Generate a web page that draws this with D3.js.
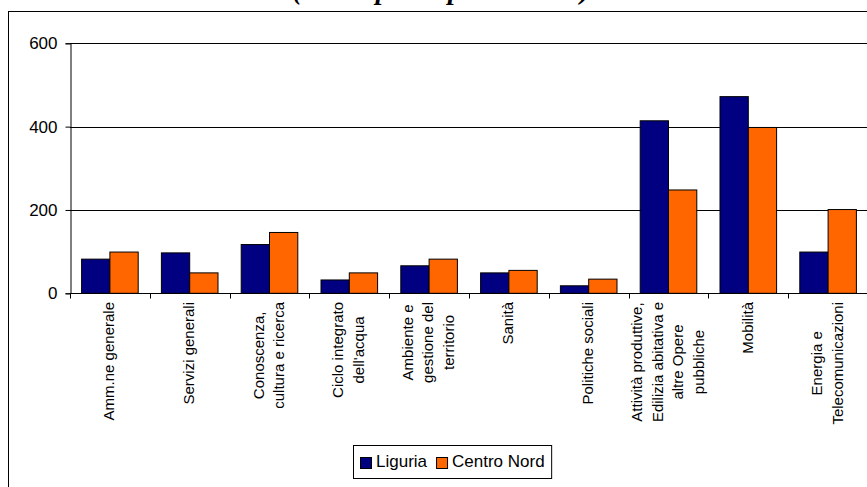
<!DOCTYPE html>
<html><head><meta charset="utf-8">
<script src="https://cdn.jsdelivr.net/npm/d3@7"></script>
<style>
html,body{margin:0;padding:0;background:#fff;overflow:hidden}
text{font-family:"Liberation Sans",Arial,sans-serif;fill:#000}
</style></head>
<body>
<svg id="chart" width="867" height="487"></svg>
<script>
const title = "(valori pro capite in euro)";
const categories = [
  "Amm.ne generale",
  "Servizi generali",
  "Conoscenza,\ncultura e ricerca",
  "Ciclo integrato\ndell'acqua",
  "Ambiente e\ngestione del\nterritorio",
  "Sanità",
  "Politiche sociali",
  "Attività produttive,\nEdilizia abitativa e\naltre Opere\npubbliche",
  "Mobilità",
  "Energia e\nTelecomunicazioni"
];
const seriesNames = ["Liguria", "Centro Nord"];
const seriesColors = ["#000080", "#FF6600"];
const liguria    = [82, 97, 117, 32, 66, 49, 18, 414, 472, 99];
const centroNord = [99, 49, 146, 49, 82, 55, 34, 248, 398, 201];
const yTicks = [0, 200, 400, 600];

const svg = d3.select("#chart");

// outer frame
svg.append("rect").attr("x", 8.5).attr("y", 11.5).attr("width", 920).attr("height", 520)
  .attr("fill", "#fff").attr("stroke", "#000").attr("stroke-width", 1);

// title (mostly cut off at the top, as in the reference)
svg.append("text").attr("x", 441).attr("y", -1).attr("text-anchor", "middle")
  .style("font-family", "'Liberation Serif','Times New Roman',serif")
  .style("font-weight", "bold").style("font-style", "italic").style("font-size", "28px")
  .text(title);

const x0 = d3.scaleBand().domain(categories).range([70, 868]).padding(0);
const x1 = d3.scaleBand().domain(seriesNames).range([0, x0.bandwidth()]).paddingInner(0).paddingOuter(0.41);
const y = d3.scaleLinear().domain([0, 600]).range([293.3, 43.3]);

// gridlines
svg.append("g").selectAll("line").data(yTicks.filter(d => d > 0)).join("line")
  .attr("x1", 70).attr("x2", 868)
  .attr("y1", d => Math.round(y(d)) + 0.5).attr("y2", d => Math.round(y(d)) + 0.5)
  .attr("stroke", "#000").attr("stroke-width", 1);

// bars
const data = categories.map((c, i) => ({c, vals: [liguria[i], centroNord[i]]}));
const groups = svg.append("g").selectAll("g").data(data).join("g")
  .attr("transform", d => `translate(${x0(d.c)},0)`);
groups.selectAll("rect").data(d => d.vals.map((v, j) => ({v, s: seriesNames[j], col: seriesColors[j]})))
  .join("rect")
  .attr("x", d => x1(d.s)).attr("width", x1.bandwidth())
  .attr("y", d => y(d.v)).attr("height", d => y(0) - y(d.v))
  .attr("fill", d => d.col).attr("stroke", "#000").attr("stroke-width", 1);

// y axis
const yAxis = svg.append("g").attr("transform", "translate(70.5,0)")
  .call(d3.axisLeft(y).tickValues(yTicks).tickSize(5).tickPadding(8));
yAxis.select(".domain").attr("stroke", "#000");
yAxis.selectAll(".tick line").attr("stroke", "#000");
yAxis.selectAll(".tick text").style("font-size", "17px").style("font-family", "'Liberation Sans',Arial,sans-serif").attr("fill", "#000");

// x axis line + ticks at category boundaries
const y0 = Math.round(y(0)) + 0.5;
svg.append("line").attr("x1", 70).attr("x2", 868).attr("y1", y0).attr("y2", y0).attr("stroke", "#000");
const bounds = categories.map(c => x0(c)).concat([x0.range()[1]]);
svg.append("g").selectAll("line").data(bounds).join("line")
  .attr("x1", d => Math.round(d) + 0.5).attr("x2", d => Math.round(d) + 0.5)
  .attr("y1", y0).attr("y2", y0 + 5).attr("stroke", "#000");

// category labels (rotated)
const lineH = 20.5;
const lab = svg.append("g").selectAll("g").data(categories).join("g")
  .attr("transform", c => `translate(${x0(c) + x0.bandwidth() / 2 - 1},302) rotate(-90)`);
lab.each(function(c) {
  const g = d3.select(this);
  const lines = c.split("\n");
  const n = lines.length;
  const texts = g.selectAll("text").data(lines).join("text")
    .style("font-size", "15px").attr("text-anchor", "middle")
    .attr("y", (d, i) => (i - (n - 1) / 2) * lineH).attr("dy", "0.35em")
    .text(d => d);
  let maxW = 0;
  texts.each(function() { maxW = Math.max(maxW, this.getComputedTextLength()); });
  texts.attr("x", -maxW / 2);
});

// legend
const leg = svg.append("g");
const legBox = leg.append("rect").attr("x", 353.5).attr("y", 445.5).attr("height", 33)
  .attr("fill", "#fff").attr("stroke", "#000");
let lx = 360;
seriesNames.forEach((s, i) => {
  leg.append("rect").attr("x", lx + 0.5).attr("y", 457.5).attr("width", 11).attr("height", 11)
    .attr("fill", seriesColors[i]).attr("stroke", "#000");
  const t = leg.append("text").attr("x", lx + 16).attr("y", 467).style("font-size", "17px").text(s);
  lx += 16 + t.node().getComputedTextLength() + 9;
});
legBox.attr("width", lx - 9 + 7 - 353.5);
</script>
</body></html>
